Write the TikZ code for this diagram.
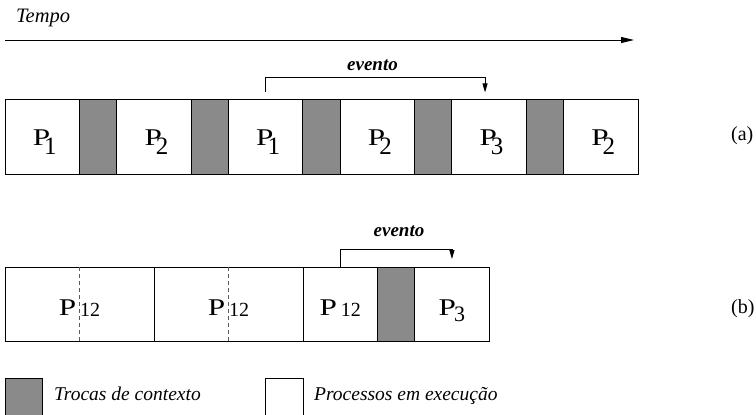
\documentclass[tikz,border=0pt]{standalone}
\usepackage{fontspec}
\setmainfont{Liberation Serif}
\usepackage{graphicx}
\usetikzlibrary{arrows.meta,positioning}
\definecolor{ctxgray}{RGB}{138,138,138}
\definecolor{dashgray}{RGB}{90,90,90}
\newcommand{\PWide}{\scalebox{1.3}[1]{P}}
\newcommand{\Pa}[1]{\kern5pt\PWide\kern-6pt\raisebox{-9pt}{\fontsize{25}{25}\selectfont #1}}
\newcommand{\Pb}[1]{\PWide\kern-1.8pt\raisebox{-6pt}{\fontsize{22}{22}\selectfont #1}}
\newcommand{\Pdoze}{\PWide\kern4pt\raisebox{-1.5pt}{\fontsize{20}{20}\selectfont 12}}
\tikzset{
  boxbase/.style={draw, line width=1pt, minimum height=74.5pt, inner sep=0pt, outer sep=0pt},
  pbox/.style={boxbase, fill=white, minimum width=74.5pt, font=\fontsize{24}{24}\selectfont},
  rowa/.style={text height=20pt, text depth=2.6pt},
  rowb/.style={text height=23pt, text depth=1.6pt},
  gbox/.style={boxbase, fill=ctxgray, minimum width=37.2pt},
  lbl/.style={inner sep=0pt, font=\fontsize{19.5}{20}\selectfont\itshape},
  evt/.style={inner sep=0pt, font=\fontsize{19}{20}\selectfont\bfseries\itshape},
  rlbl/.style={inner sep=0pt, font=\fontsize{20}{20}\selectfont},
  tarrow/.style={line width=1pt, -{Triangle[length=13pt,width=6pt]}},
  evarrow/.style={line width=0.9pt, -{Triangle[length=9pt,width=5pt]}},
  dashdiv/.style={line width=1pt, dashgray, dash pattern=on 4pt off 3pt}
}
\begin{document}
\begin{tikzpicture}[x=1pt,y=-1pt]
\useasboundingbox (0,0) rectangle (756,415);
% time axis
\node[lbl, font=\fontsize{20.5}{21}\selectfont\itshape, anchor=base west] (tempo) at (16,22) {Tempo};
\coordinate (t0) at (5,40);
\coordinate (t1) at (634,40);
\draw[tarrow] (t0) -- (t1);
% row (a)
\node[pbox, rowa] (a1) at (42.25,137) {\Pa{1}};
\node[gbox, right=0pt of a1] (g1) {};
\node[pbox, rowa, right=0pt of g1] (a2) {\Pa{2}};
\node[gbox, right=0pt of a2] (g2) {};
\node[pbox, rowa, right=0pt of g2] (a3) {\Pa{1}};
\node[gbox, right=0pt of a3] (g3) {};
\node[pbox, rowa, right=0pt of g3] (a4) {\Pa{2}};
\node[gbox, right=0pt of a4] (g4) {};
\node[pbox, rowa, right=0pt of g4] (a5) {\Pa{3}};
\node[gbox, right=0pt of a5] (g5) {};
\node[pbox, rowa, right=0pt of g5] (a6) {\Pa{2}};
\node[rlbl, anchor=base west] (la) at (731,140) {(a)};
% evento (a)
\node[evt, anchor=base] (eva) at (372.5,70) {evento};
\draw[evarrow] ([yshift=7.3pt]a3.north) -- ++(0,-15.4) -| ([xshift=-4pt,yshift=7.3pt]a5.north);
% row (b)
\node[pbox, rowb, minimum width=149pt] (b1) at (79.5,304.3) {\Pdoze};
\node[pbox, rowb, minimum width=149pt, right=0pt of b1] (b2) {\Pdoze};
\node[pbox, rowb, right=0pt of b2] (b3) {\Pdoze};
\node[gbox, right=0pt of b3] (bg) {};
\node[pbox, rowb, right=0pt of bg] (b4) {\Pb{3}};
\draw[dashdiv] (b1.north) -- (b1.south);
\draw[dashdiv] (b2.north) -- (b2.south);
\node[rlbl, anchor=base west] (lb) at (731,313) {(b)};
% evento (b)
\node[evt, anchor=base] (evb) at (399,236.7) {evento};
\draw[evarrow] (b3.north) -- ++(0,-17.4) -| ([yshift=8pt]b4.north);
% legend
\node[boxbase, fill=ctxgray, minimum width=37.7pt, minimum height=37.7pt, anchor=north west] (lg) at (5,378.3) {};
\node[lbl, anchor=base west] (lgt) at (54,400) {Trocas de contexto};
\node[boxbase, fill=white, minimum width=37.7pt, minimum height=37.7pt, anchor=north west] (lw) at (265.7,378.3) {};
\node[lbl, anchor=base west] (lwt) at (314,400) {Processos em execução};
\end{tikzpicture}
\end{document}
